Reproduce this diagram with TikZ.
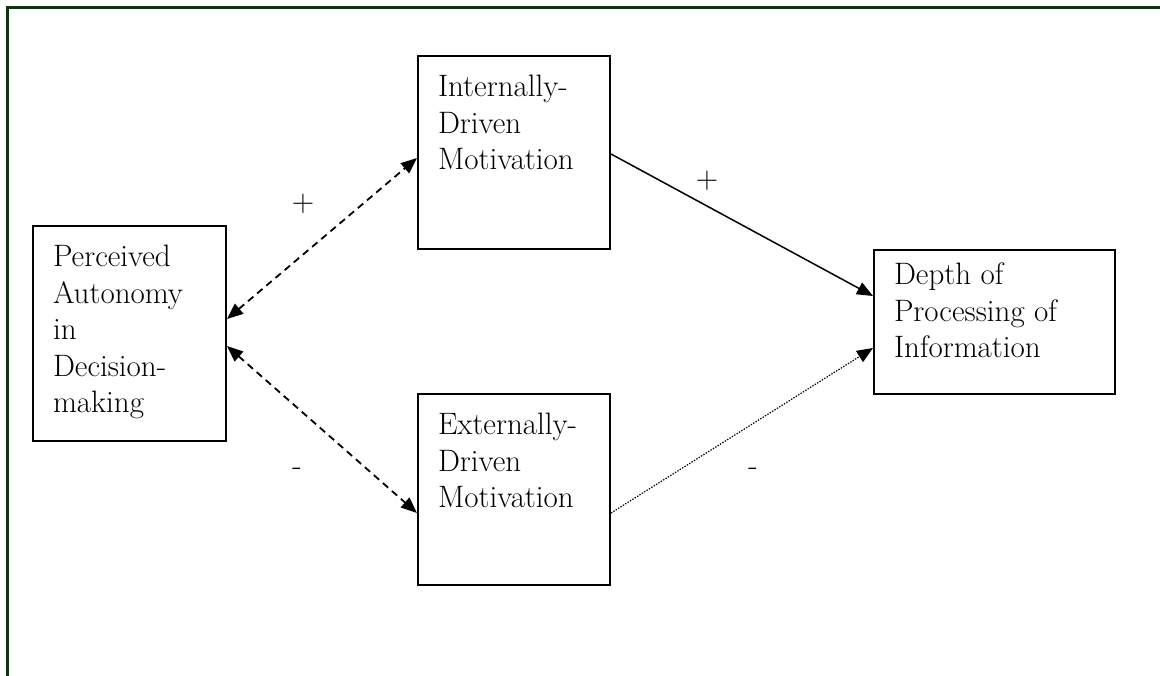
\documentclass[tikz,border=0pt]{standalone}
\usepackage{fontspec}
\usetikzlibrary{arrows.meta}
\definecolor{framegreen}{RGB}{10,58,10}
\newcommand{\boxtext}[4]{\parbox[c][#1][t]{#2}{\raggedright\vspace*{#3}#4}}
\tikzset{
  varbox/.style={draw, line width=2pt, anchor=north west, inner xsep=20pt, inner ysep=0pt},
  sign/.style={inner sep=0pt},
  twohead/.style={{Triangle[length=16pt,width=13pt]}-{Triangle[length=16pt,width=13pt]}},
  onehead/.style={-{Triangle[length=16pt,width=13pt]}}
}
\begin{document}
\begin{tikzpicture}[x=1pt, y=-1pt, font=\fontsize{31}{36.5}\selectfont]
      \useasboundingbox (0,0) rectangle (1160,676);
      \draw[framegreen, line width=2.5pt] (7.5,676) -- (7.5,7.5) -- (1160,7.5);

      \node[varbox] (auton) at (32,225)
        {\boxtext{215pt}{153pt}{19pt}{Perceived\\Autonomy\\in\\Decision-\\making}};
      \node[varbox] (intern) at (417,55)
        {\boxtext{193pt}{152pt}{19pt}{Internally-\\Driven\\Motivation}};
      \node[varbox] (extern) at (417,393)
        {\boxtext{191pt}{152pt}{19pt}{Externally-\\Driven\\Motivation}};
      \node[varbox] (depth) at (873,249)
        {\boxtext{144pt}{201pt}{13pt}{Depth of\\Processing of\\Information}};

      \node[sign] (plusa) at (303,204) {+};
      \node[sign] (minusa) at (297,472) {-};
      \node[sign] (plusb) at (707,181) {+};
      \node[sign] (minusb) at (753,472) {-};

      \begin{scope}[line width=1.8pt]
        \draw[twohead, dash pattern=on 7pt off 5pt] ([yshift=14.5pt]auton.east) to ([yshift=-5.5pt]intern.west);
        \draw[twohead, dash pattern=on 7pt off 5pt] ([yshift=-12.5pt]auton.east) to ([yshift=-23.5pt]extern.west);
        \draw[onehead, line width=1.5pt] ([yshift=-1.5pt]intern.east) to ([yshift=26pt]depth.west);
        \draw[onehead, line width=1.2pt, dash pattern=on 1.4pt off 1.4pt] ([yshift=-23.5pt]extern.east) to ([yshift=-26pt]depth.west);
      \end{scope}
    \end{tikzpicture}
\end{document}
